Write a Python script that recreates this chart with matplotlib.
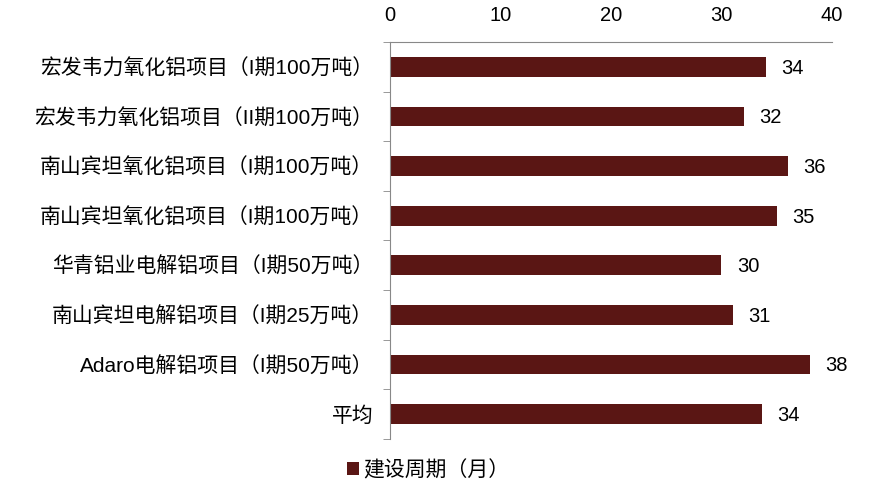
import matplotlib
matplotlib.use('Agg')
import matplotlib.pyplot as plt
import numpy as np

plt.rcParams['font.family'] = ['Liberation Sans', 'Noto Sans CJK SC', 'DejaVu Sans']

# project names, top to bottom
projects = ['宏发韦力氧化铝项目（I期100万吨）',
            '宏发韦力氧化铝项目（II期100万吨）',
            '南山宾坦氧化铝项目（I期100万吨）',
            '南山宾坦氧化铝项目（I期100万吨）',
            '华青铝业电解铝项目（I期50万吨）',
            '南山宾坦电解铝项目（I期25万吨）',
            'Adaro电解铝项目（I期50万吨）',
            '平均']
months = [34, 32, 36, 35, 30, 31, 38, 33.7]
series_name = '建设周期（月）'
bar_color = '#5a1614'

fig = plt.figure(figsize=(8.79, 5.01), dpi=100)
ax = fig.add_axes([0.4437, 0.124, 0.5028, 0.792])

y = np.arange(len(projects))
bars = ax.barh(y, months, height=0.4, color=bar_color, label=series_name)

ax.set_ylim(len(projects) - 0.5, -0.5)
ax.set_xlim(0, 40)
ax.set_xticks([0, 10, 20, 30, 40])
ax.xaxis.tick_top()
ax.tick_params(axis='x', length=0, pad=12, labelsize=14.5)

ax.set_yticks(y)
ax.set_yticklabels(projects, fontsize=15)
ax.set_yticks(np.arange(len(projects) + 1) - 0.5, minor=True)
ax.tick_params(axis='y', which='major', length=0, pad=12)
ax.tick_params(axis='y', which='minor', length=5, color='#888888', direction='out')

for s in ['right', 'bottom']:
    ax.spines[s].set_visible(False)
ax.spines['top'].set_color('#888888')
ax.spines['left'].set_color('#888888')

for yi, v in zip(y, months):
    ax.annotate('%d' % round(v), xy=(v, yi), xytext=(11, -1), textcoords='offset points',
                ha='left', va='center', fontsize=14.5)

fig.legend(loc='center left', bbox_to_anchor=(0.373, 0.062), frameon=False,
           fontsize=15, handlelength=0.6, handleheight=0.6, handletextpad=0.2)

fig.savefig('out.png', dpi=100)
